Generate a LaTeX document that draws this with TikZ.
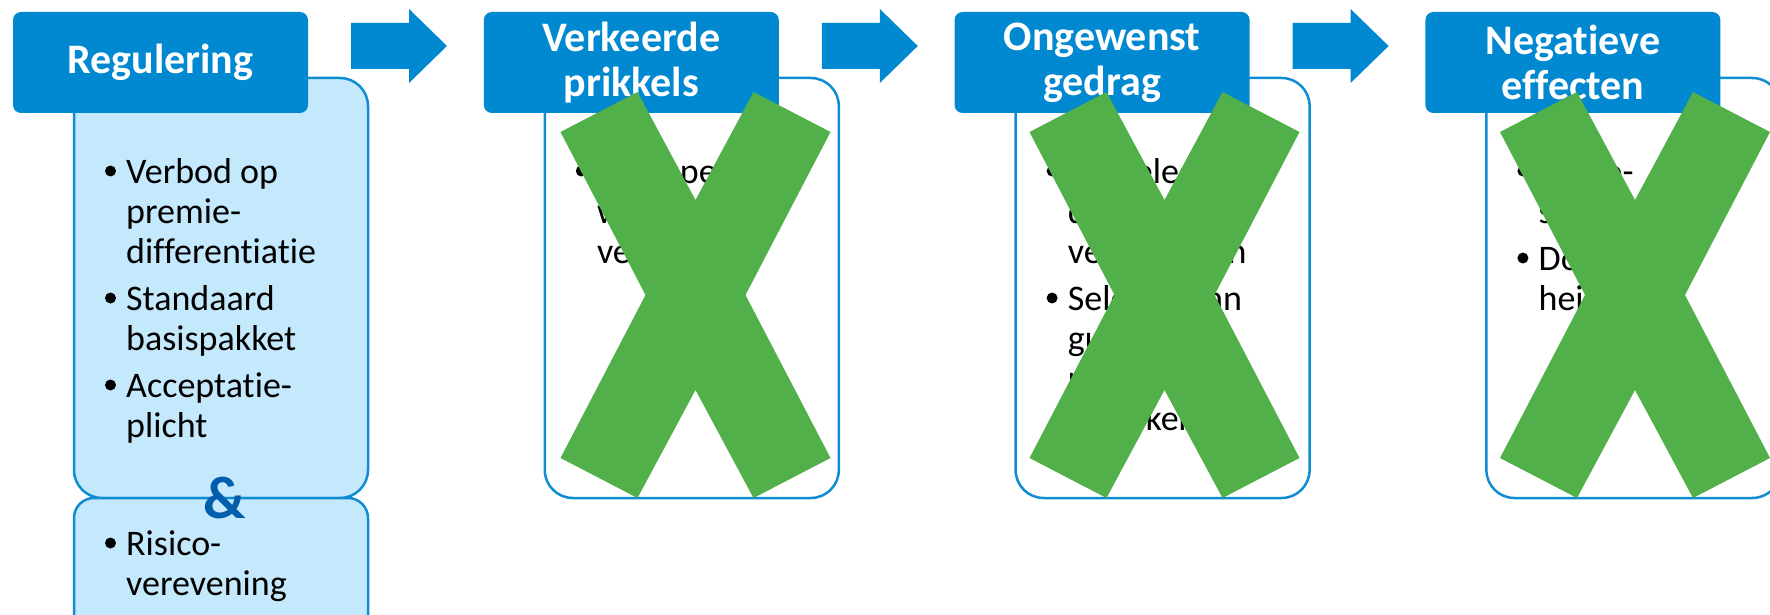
\documentclass[tikz,border=0pt]{standalone}
\usepackage{fontspec}
\setmainfont{Carlito}[Ligatures=NoCommon]
\usetikzlibrary{positioning}
\definecolor{kopblauw}{RGB}{0,137,208}
\definecolor{randblauw}{RGB}{16,140,210}
\definecolor{lichtblauw}{RGB}{197,233,252}
\definecolor{donkerblauw}{RGB}{0,94,172}
\definecolor{kruisgroen}{RGB}{82,176,75}

\begin{document}
\begin{tikzpicture}[x=1pt, y=-1pt,
	kop/.style={fill=kopblauw, rounded corners=8pt, minimum width=295pt, minimum height=101pt, inner sep=0pt, text=white, align=center, font=\fontsize{42pt}{45pt}\selectfont\bfseries},
	vak/.style={draw=randblauw, line width=2.5pt, fill=white, rounded corners=28pt, minimum width=294pt, minimum height=420pt, inner sep=0pt},
	punt/.style={circle, fill=black, minimum size=11pt, inner sep=0pt},
	tekst/.style={anchor=base west, align=left, inner sep=0pt, font=\fontsize{36pt}{40pt}\selectfont}]
	
	\useasboundingbox (0,0) rectangle (1770,615);
	\clip (0,0) rectangle (1770,615);
	
	\pgfmathsetmacro{\kol}{470.8}
	
	% vakken
	\node[vak, fill=lichtblauw] (v1) at (221,288) {};
	\node[vak, fill=lichtblauw, rounded corners=20pt, minimum height=160pt] (v1b) at (221,578) {};
	\node[vak] (v2) at (221+\kol,288) {};
	\node[vak] (v3) at (221+2*\kol,288) {};
	\node[vak] (v4) at (221+3*\kol,288) {};
	
	% koppen
	\node[kop] (k1) at (160.5,62.5) {Regulering};
	\node[kop] (k2) at (160.5+\kol,62.5) {Verkeerde\\prikkels};
	\node[kop] (k3) at (160.5+2*\kol,62.5) {Ongewenst\\gedrag};
	\node[kop] (k4) at (160.5+3*\kol,62.5) {Negatieve\\effecten};
	
	% regulering (tekst staat op de basislijn van de laatste regel)
	\node[punt] (p11) at (110.5,171) {};
	\node[tekst] (t11) at (126,263) {Verbod op\\premie-\\differentiatie};
	\node[punt] (p12) at (110.5,298) {};
	\node[tekst] (t12) at (126,350) {Standaard\\basispakket};
	\node[punt] (p13) at (110.5,385) {};
	\node[tekst] (t13) at (126,437) {Acceptatie-\\plicht};
	\node[punt] (p14) at (110.5,543) {};
	\node[tekst] (t14) at (126,595) {Risico-\\verevening};
	\node[font=\fontsize{60pt}{60pt}\selectfont\bfseries, text=donkerblauw, anchor=base, inner sep=0pt] (en) at (225,518) {\&};
	
	% prikkels
	\node[punt] (p21) at (110.5+\kol,171) {};
	\node[tekst] (t21) at (126+\kol,263) {Voorspelbare\\winsten en\\verliezen};
	
	% gedrag
	\node[punt] (p31) at (110.5+2*\kol,171) {};
	\node[tekst] (t31) at (126+2*\kol,263) {Zelfselectie\\door\\verzekerden};
	\node[punt] (p32) at (110.5+2*\kol,298) {};
	\node[tekst] (t32) at (126+2*\kol,430) {Selectie van\\gunstige\\risico's door\\verzekeraars};
	
	% effecten
	\node[punt] (p41) at (110.5+3*\kol,171) {};
	\node[tekst] (t41) at (126+3*\kol,223) {Risico-\\solidariteit};
	\node[punt] (p42) at (110.5+3*\kol,258) {};
	\node[tekst] (t42) at (126+3*\kol,310) {Doelmatig-\\heid};
	
	% pijlen
	\fill[kopblauw] (351,23) -- (409,23) -- (409,9) -- (447,46) -- (409,83) -- (409,69) -- (351,69) -- cycle;
	\fill[kopblauw, shift={(\kol,0)}] (351,23) -- (409,23) -- (409,9) -- (447,46) -- (409,83) -- (409,69) -- (351,69) -- cycle;
	\fill[kopblauw, shift={(2*\kol,0)}] (351,23) -- (409,23) -- (409,9) -- (447,46) -- (409,83) -- (409,69) -- (351,69) -- cycle;
	
	% kruizen
	\fill[kruisgroen, shift={(695.5,295)}] (-135,-163) -- (-58,-203) -- (0,-95) -- (58,-203) -- (135,-163) -- (50,0) -- (135,163) -- (58,203) -- (0,95) -- (-58,203) -- (-135,163) -- (-50,0) -- cycle;
	\fill[kruisgroen, shift={(1164.5,295)}] (-135,-163) -- (-58,-203) -- (0,-95) -- (58,-203) -- (135,-163) -- (50,0) -- (135,163) -- (58,203) -- (0,95) -- (-58,203) -- (-135,163) -- (-50,0) -- cycle;
	\fill[kruisgroen, shift={(1635,295)}] (-135,-163) -- (-58,-203) -- (0,-95) -- (58,-203) -- (135,-163) -- (50,0) -- (135,163) -- (58,203) -- (0,95) -- (-58,203) -- (-135,163) -- (-50,0) -- cycle;
\end{tikzpicture}
\end{document}
